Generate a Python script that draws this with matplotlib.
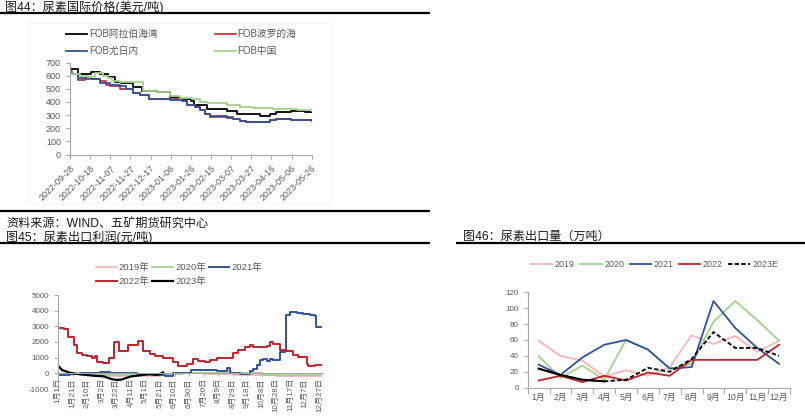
import pandas as pd
import matplotlib
matplotlib.use('Agg')
import matplotlib.pyplot as plt
from matplotlib.lines import Line2D
from matplotlib.patches import Rectangle

plt.rcParams['font.family'] = ['Liberation Sans', 'Noto Sans CJK SC']
plt.rcParams['axes.unicode_minus'] = False

# ---- chart 44: FOB urea prices (USD/t), days after 2022-09-28
start_day = '2022-09-28'
arab_days = [0, 8, 21, 30, 38, 45, 51, 63, 71, 86, 99, 109, 120, 123, 136, 156, 166, 175, 189, 192, 199, 205, 219, 233, 240]
arab_vals = [650, 610, 630, 610, 587, 555, 545, 515, 480, 475, 435, 425, 410, 380, 345, 330, 310, 305, 295, 290, 305, 325, 330, 320, 320]
baltic_days = [0, 2, 8, 15, 30, 36, 40, 50, 56, 63, 70, 78, 99, 111, 116, 124, 129, 134, 139, 156, 162, 169, 175, 195, 199, 205, 219, 228, 240]
baltic_vals = [635, 610, 565, 575, 560, 530, 525, 495, 495, 470, 455, 425, 420, 405, 380, 360, 340, 310, 288, 282, 270, 255, 250, 245, 265, 270, 265, 260, 258]
yuzh_days = [0, 8, 22, 30, 40, 50, 56, 63, 70, 78, 99, 111, 116, 124, 129, 134, 139, 156, 162, 169, 175, 195, 199, 205, 219, 228, 240]
yuzh_vals = [610, 585, 575, 545, 530, 520, 495, 470, 455, 425, 415, 405, 380, 360, 340, 310, 290, 280, 270, 255, 250, 245, 265, 270, 265, 260, 258]
china_days = [0, 10, 18, 25, 33, 38, 42, 50, 72, 86, 99, 109, 121, 129, 137, 156, 169, 182, 202, 215, 225, 240]
china_vals = [610, 600, 590, 620, 600, 580, 560, 550, 480, 475, 445, 430, 420, 400, 390, 380, 360, 355, 350, 345, 335, 330]

# ---- chart 45: export profit (CNY/t), day of year
p2019_day = [0, 40, 70, 90, 110, 140, 170, 200, 240, 280, 300, 330, 362]
p2019_val = [-50, -100, -150, -200, -150, -50, 0, -50, -100, -100, -150, -200, -150]
p2020_day = [0, 30, 60, 100, 140, 170, 200, 225, 232, 238, 260, 280, 320, 362]
p2020_val = [-50, -80, -100, -80, -50, 0, 50, 80, 150, 50, 0, -80, -100, -80]
p2021_day = [0, 16, 30, 48, 57, 71, 80, 108, 135, 147, 158, 177, 183, 218, 232, 236, 250, 264, 268, 273,
             278, 282, 287, 291, 296, 305, 312, 313, 319, 328, 337, 346, 353, 355, 362]
p2021_val = [-100, -50, 50, 0, 100, 50, 0, -50, -100, -200, 0, 50, 200, 150, 350, 50, -50, 150, 300, 530,
             850, 900, 800, 900, 850, 1380, 1450, 3720, 3900, 3830, 3770, 3720, 3680, 2940, 2980]
p2022_day = [0, 8, 14, 21, 26, 32, 39, 46, 50, 53, 62, 70, 76, 83, 96, 110, 117, 126, 133, 144, 158, 165,
             177, 186, 193, 202, 209, 218, 236, 241, 248, 257, 264, 268, 287, 291, 296, 305, 314, 323, 330,
             342, 344, 353, 362]
p2022_val = [2900, 2850, 2350, 1800, 1280, 1150, 1100, 1000, 1100, 700, 650, 1000, 2000, 1400, 1800, 2050,
             1450, 1250, 1100, 950, 700, 450, 600, 900, 800, 750, 850, 950, 1000, 1300, 1500, 1650, 1800,
             1650, 1750, 2000, 1850, 1500, 1400, 1200, 1050, 600, 500, 550, 550]
p2023_day = [0, 1, 5, 9, 14, 21, 30, 39, 48, 62, 73, 80, 87, 92, 99, 108, 117, 126, 135, 142, 144]
p2023_val = [450, 430, 210, 150, 60, 0, -60, -100, -150, -190, -360, -420, -400, -320, -210, -150, -100, -60, -100, 0, 60]

# ---- chart 46: export volume (10k t)
months = ['1月', '2月', '3月', '4月', '5月', '6月', '7月', '8月', '9月', '10月', '11月', '12月']
exp_2019 = [59, 40, 34, 14, 22, 15, 26, 66, 55, 65, 45, 59]
exp_2020 = [40, 12, 28, 10, 60, 48, 24, 30, 83, 109, 85, 59]
exp_2021 = [29, 16, 38, 54, 60, 48, 24, 26, 109, 75, 50, 30]
exp_2022 = [9, 15, 7, 15, 9, 19, 15, 35, 35, 35, 35, 54]
exp_2023 = [24, 16, 10, 8]
exp_2023E = [24, 16, 10, 8, 10, 25, 20, 36, 70, 50, 50, 40]

W, H = 805, 416
GRAY = '#595959'
SPINE = '#A6A6A6'
BLACK, RED, BLUE, GREEN, PINK = '#000000', '#C0242B', '#2F549A', '#A3D28C', '#F4B6B8'

fig = plt.figure(figsize=(W / 100, H / 100), dpi=100)


def add_ax(l, t, r, b):
    return fig.add_axes([l / W, 1 - b / H, (r - l) / W, (b - t) / H])


def rule(x0, x1, y, lw=1.6):
    fig.add_artist(Line2D([x0 / W, x1 / W], [1 - y / H, 1 - y / H], transform=fig.transFigure,
                          color='black', lw=lw, solid_capstyle='butt'))


def style(ax):
    for s in ['top', 'right']:
        ax.spines[s].set_visible(False)
    for s in ['left', 'bottom']:
        ax.spines[s].set_color(SPINE)
        ax.spines[s].set_linewidth(0.8)
    ax.tick_params(colors=SPINE, labelcolor=GRAY, length=3, width=0.7, direction='out')


# headings and rules
head = dict(fontsize=8.7, va='center', color='#1a1a1a')
fig.text(5 / W, 1 - 7 / H, '图44：尿素国际价格(美元/吨)', **head)
rule(0, 430, 13)
fig.text(6 / W, 1 - 224 / H, '资料来源：WIND、五矿期货研究中心', **head)
fig.text(6 / W, 1 - 237 / H, '图45：尿素出口利润(元/吨)', **head)
fig.text(463 / W, 1 - 237 / H, '图46：尿素出口量（万吨）', **head)
rule(0, 430, 211)
rule(0, 430, 243)
rule(456, 805, 243)
fig.add_artist(Rectangle((28 / W, 1 - 203 / H), 302 / W, 180 / H, transform=fig.transFigure,
                         fill=False, edgecolor='#F4F4F4', lw=0.8))

# ---- chart 44
ax1 = add_ax(70, 62.5, 311.7, 154.5)
t0 = pd.Timestamp(start_day)


def to_dates(days):
    return t0 + pd.to_timedelta(days, unit='D')


ax1.step(to_dates(arab_days), arab_vals, where='post', color=BLACK, lw=1.3, label='FOB阿拉伯海湾')
ax1.step(to_dates(baltic_days), baltic_vals, where='post', color=RED, lw=1.2, label='FOB波罗的海')
ax1.step(to_dates(yuzh_days), yuzh_vals, where='post', color=BLUE, lw=1.3, label='FOB尤日内')
ax1.step(to_dates(china_days), china_vals, where='post', color=GREEN, lw=1.3, label='FOB中国')
ax1.set_xlim(t0, t0 + pd.Timedelta(days=240))
ax1.set_ylim(0, 700)
ax1.set_yticks(range(0, 701, 100))
ticks1 = pd.date_range(t0, periods=13, freq='20D')
ax1.set_xticks(ticks1)
ax1.set_xticklabels([d.strftime('%Y-%m-%d') for d in ticks1], rotation=45, ha='right', va='top',
                    rotation_mode='anchor')
style(ax1)
ax1.tick_params(labelsize=6.5)
h, l = ax1.get_legend_handles_labels()
order = [0, 2, 1, 3]
fig.legend([h[i] for i in order], [l[i] for i in order], loc='upper left', bbox_to_anchor=(66 / W, 1 - 29 / H),
           ncol=2, frameon=False, fontsize=7, handlelength=2.2, handletextpad=0.15, columnspacing=5.9,
           labelspacing=0.75, borderaxespad=0, borderpad=0, labelcolor=GRAY)

# ---- chart 45
ax2 = add_ax(58.3, 295, 322.7, 389)
ax2.plot(p2019_day, p2019_val, drawstyle='steps-post', color=PINK, lw=1.3, label='2019年')
ax2.plot(p2020_day, p2020_val, drawstyle='steps-post', color=GREEN, lw=1.3, label='2020年')
ax2.plot(p2021_day, p2021_val, drawstyle='steps-post', color=BLUE, lw=1.4, label='2021年')
ax2.plot(p2022_day, p2022_val, drawstyle='steps-post', color=RED, lw=1.4, label='2022年')
ax2.plot(p2023_day, p2023_val, color=BLACK, lw=1.6, label='2023年')
ax2.set_xlim(0, 364)
ax2.set_ylim(-1000, 5000)
ax2.set_yticks(range(-1000, 5001, 1000))
style(ax2)
ax2.spines['bottom'].set_position(('data', 0))
ticks2 = pd.date_range('2021-01-01', periods=19, freq='20D')
ax2.set_xticks(range(0, 361, 20))
ax2.set_xticklabels([f'{d.month}月{d.day}日' for d in ticks2], rotation=90, ha='center', va='top')
ax2.tick_params(axis='x', labelsize=5.8, length=2, pad=1.5)
ax2.tick_params(axis='y', labelsize=5.8)
h, l = ax2.get_legend_handles_labels()
order = [0, 3, 1, 4, 2]
fig.legend([h[i] for i in order], [l[i] for i in order], loc='upper left', bbox_to_anchor=(96 / W, 1 - 263 / H),
           ncol=3, frameon=False, fontsize=6.8, handlelength=2.2, handletextpad=0.2, columnspacing=0.3,
           labelspacing=0.55, borderaxespad=0, borderpad=0, labelcolor=GRAY)

# ---- chart 46
ax3 = add_ax(527.7, 292.3, 790, 387.7)
x = range(1, 13)
ax3.plot(x, exp_2019, color=PINK, lw=1.3, label='2019')
ax3.plot(x, exp_2020, color=GREEN, lw=1.3, label='2020')
ax3.plot(x, exp_2021, color=BLUE, lw=1.3, label='2021')
ax3.plot(x, exp_2022, color=RED, lw=1.3, label='2022')
ax3.plot(x, exp_2023E, color=BLACK, lw=1.3, ls='--', dashes=(2.4, 1.3), label='2023E')
ax3.plot(range(1, len(exp_2023) + 1), exp_2023, color=BLACK, lw=1.5)
ax3.set_xlim(0.5, 12.5)
ax3.set_ylim(0, 120)
ax3.set_yticks(range(0, 121, 20))
style(ax3)
ax3.set_xticks(list(x))
ax3.set_xticklabels(months)
ax3.set_xticks([i + 0.5 for i in range(0, 13)], minor=True)
ax3.tick_params(axis='x', which='major', length=0, labelsize=6.3, pad=4)
ax3.tick_params(axis='x', which='minor', length=4, color=SPINE, width=0.7)
ax3.tick_params(axis='y', labelsize=5.8)
h, l = ax3.get_legend_handles_labels()
fig.legend(h, l, loc='upper left', bbox_to_anchor=(531 / W, 1 - 260 / H), ncol=5, frameon=False,
           fontsize=6.4, handlelength=2.4, handletextpad=0.3, columnspacing=0.6, borderaxespad=0,
           borderpad=0, labelcolor=GRAY)

fig.savefig('out.png', dpi=100)
